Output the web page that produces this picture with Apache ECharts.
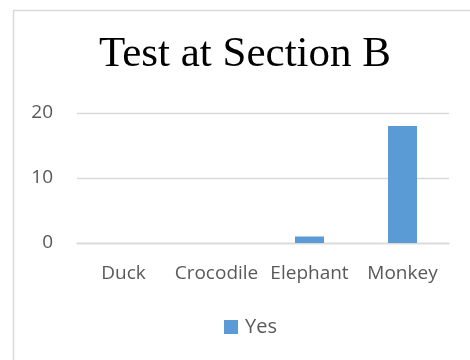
<!DOCTYPE html>
<html>
<head>
<meta charset="utf-8">
<script src="https://cdn.jsdelivr.net/npm/echarts@6/dist/echarts.min.js"></script>
<style>
html,body{margin:0;padding:0;background:#fff;}
#main{width:470px;height:360px;}
</style>
</head>
<body>
<div id="main"></div>
<script>
const categories = ['Duck', 'Crocodile', 'Elephant', 'Monkey'];
const yesValues = [0, 0, 1, 18];
const seriesName = 'Yes';
const titleText = 'Test at Section B';

const chart = echarts.init(document.getElementById('main'), null, {renderer: 'canvas'});
chart.setOption({
  animation: false,
  backgroundColor: '#ffffff',
  graphic: [{
    type: 'rect',
    shape: {x: 13.5, y: 10.5, width: 500, height: 400},
    style: {fill: 'none', stroke: '#d9d9d9', lineWidth: 1.5},
    silent: true
  }],
  title: {
    text: titleText,
    left: 99,
    top: 33,
    padding: 0,
    textStyle: {fontFamily: 'Liberation Serif', fontSize: 43, fontWeight: 'normal', color: '#000000'}
  },
  legend: {
    data: [seriesName],
    bottom: 23,
    left: 224,
    padding: 0,
    itemWidth: 14,
    itemHeight: 14,
    itemGap: 6,
    icon: 'rect',
    textStyle: {fontFamily: 'Open Sans', fontSize: 20, color: '#595959', padding: [0, 0, 0, 2]}
  },
  grid: {left: 77, right: 21, top: 113, bottom: 117, containLabel: false},
  xAxis: {
    type: 'category',
    data: categories,
    axisLine: {show: true, lineStyle: {color: '#d9d9d9', width: 1.3}},
    axisTick: {show: false},
    axisLabel: {fontFamily: 'Open Sans', fontSize: 19, color: '#595959', margin: 21, interval: 0}
  },
  yAxis: {
    type: 'value',
    min: 0,
    max: 20,
    interval: 10,
    axisLine: {show: false},
    axisTick: {show: false},
    splitLine: {lineStyle: {color: '#d9d9d9', width: 1.3}},
    axisLabel: {fontFamily: 'Open Sans', fontSize: 19, color: '#595959', margin: 24}
  },
  series: [{
    name: seriesName,
    type: 'bar',
    data: yesValues,
    barWidth: 29,
    itemStyle: {color: '#5b9bd5'}
  }]
});
</script>
</body>
</html>
